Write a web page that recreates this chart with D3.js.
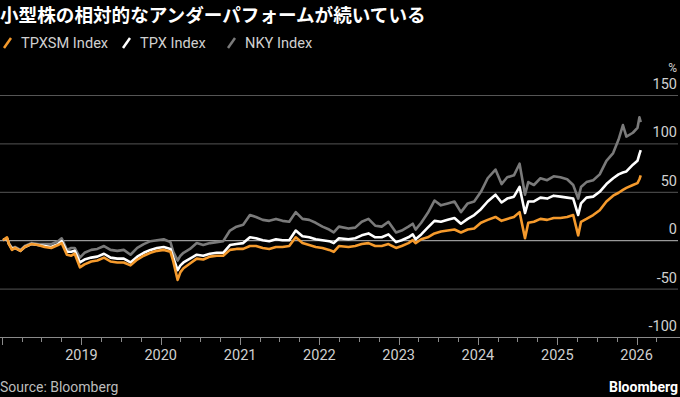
<!DOCTYPE html>
<html>
<head>
<meta charset="utf-8">
<script src="https://cdn.jsdelivr.net/npm/d3@7"></script>
<style>
  body { margin: 0; background: #000; }
  svg { display: block; }
  text { font-family: Roboto, "Noto Sans", sans-serif; }
</style>
</head>
<body>
<div id="chart-area"></div>
<script>
// readings from the picture, % change since Jan 2018
var dates = [
  "2018-01-05","2018-01-23","2018-02-01","2018-02-15","2018-03-01","2018-03-26","2018-04-15","2018-05-15","2018-06-15","2018-07-15","2018-08-15","2018-09-15","2018-10-02","2018-10-26","2018-11-15","2018-12-01","2018-12-25",
  "2019-01-15","2019-02-15","2019-03-15","2019-04-15","2019-05-15","2019-06-15","2019-07-15","2019-08-15","2019-09-15","2019-10-15","2019-11-15","2019-12-15",
  "2020-01-15","2020-02-15","2020-02-28","2020-03-19","2020-04-01","2020-04-15","2020-05-15","2020-06-15","2020-07-15","2020-08-15","2020-09-15","2020-10-15","2020-11-15","2020-12-15",
  "2021-01-15","2021-02-15","2021-03-15","2021-04-15","2021-05-15","2021-06-15","2021-07-15","2021-08-15","2021-09-14","2021-10-15","2021-11-15","2021-12-15",
  "2022-01-15","2022-02-15","2022-03-08","2022-04-01","2022-05-15","2022-06-15","2022-07-15","2022-08-15","2022-09-15","2022-10-15","2022-11-15","2022-12-20",
  "2023-01-15","2023-02-15","2023-03-07","2023-03-20","2023-04-15","2023-05-15","2023-06-15","2023-07-15","2023-08-15","2023-09-15","2023-10-15","2023-11-15","2023-12-15",
  "2024-01-15","2024-02-15","2024-03-22","2024-04-19","2024-05-15","2024-06-15","2024-07-11","2024-08-05","2024-08-20","2024-09-15","2024-10-15","2024-11-15","2024-12-15",
  "2025-01-15","2025-02-15","2025-03-15","2025-04-07","2025-04-20","2025-05-15","2025-06-15","2025-07-15","2025-08-15","2025-09-15","2025-10-10","2025-10-30","2025-11-15","2025-12-15",
  "2026-01-05","2026-01-14","2026-01-20"
];

var nky = [
  0, 2, -3, -8, -7, -10, -6, -3, -4, -4, -4, -1, 2, -10, -8, -8, -18,
  -13, -10, -9, -6, -10, -11, -10, -15, -8, -4, -1, 0,
  1, -2, -12, -21, -16, -13, -9, -3, -5, -3, -2, -1, 10, 14,
  16, 26, 24, 21, 20, 22, 20, 19, 29, 22, 21, 18,
  14, 11, 8, 14, 12, 13, 19, 22, 15, 14, 19, 8,
  10, 14, 17, 11, 18, 28, 41, 36, 38, 40, 29, 38, 40,
  50, 64, 73, 58, 65, 67, 79, 47, 60, 57, 64, 62, 66,
  65, 63, 57, 43, 55, 60, 62, 68, 82, 90, 104, 119, 107, 111,
  116, 127, 122
];

var tpx = [
  0, 2, -4, -9, -8, -11, -7, -4, -5, -6, -7, -4, -1, -12, -12, -11, -23,
  -20, -18, -17, -14, -18, -19, -19, -23, -17, -13, -10, -8,
  -7, -9, -18, -31, -26, -23, -19, -15, -16, -14, -13, -13, -5, -4,
  -3, 3, 2, 0, -1, 1, 0, 0, 10, 4, 3, 1,
  0, -1, -3, 2, 1, 2, 5, 7, 3, 3, 6, -2,
  0, 3, 6, 1, 6, 13, 20, 19, 21, 23, 17, 22, 26,
  32, 40, 47, 39, 43, 45, 55, 28, 40, 40, 44, 43, 46,
  45, 44, 43, 26, 38, 44, 45, 50, 58, 64, 68, 70, 71, 78,
  82, 89, 93
];

var tpxsm = [
  0, 3, -4, -10, -8, -11, -7, -4, -5, -7, -8, -5, -3, -15, -16, -14, -28,
  -25, -22, -21, -18, -22, -23, -23, -26, -20, -16, -13, -11,
  -10, -12, -22, -41, -33, -29, -24, -19, -20, -17, -16, -16, -10, -9,
  -9, -6, -6, -8, -9, -7, -7, -6, 3, -3, -5, -7,
  -8, -10, -12, -6, -7, -6, -4, -3, -6, -6, -4, -8,
  -6, -3, 0, -3, 1, 3, 7, 9, 10, 11, 8, 11, 12,
  18, 21, 24, 20, 22, 24, 29, 2, 18, 19, 22, 21, 23,
  23, 24, 26, 5, 19, 22, 26, 31, 40, 46, 49, 52, 54, 57,
  59, 63, 67
];

var yTicks = [150, 100, 50, 0, -50, -100];
var xYears = [2019, 2020, 2021, 2022, 2023, 2024, 2025, 2026];

var chartTitle = "小型株の相対的なアンダーパフォームが続いている";
var seriesNames = ["TPXSM Index", "TPX Index", "NKY Index"];
var seriesColours = ["#f59a2c", "#ffffff", "#7a7a7a"];

var width = 680, height = 397;

var svg = d3.select("#chart-area").append("svg")
    .attr("width", width)
    .attr("height", height);

var parseDate = d3.timeParse("%Y-%m-%d");

var x = d3.scaleTime()
    .domain([new Date(2018, 0, 1), new Date(2026, 0, 1)])
    .range([2.2, 636.6]);

var y = d3.scaleLinear()
    .domain([-100, 150])
    .range([337, 95]);

// title
svg.append("text")
    .attr("x", 0)
    .attr("y", 22)
    .attr("fill", "#fff")
    .attr("font-size", "18.6px")
    .attr("font-weight", "bold")
    .style("font-family", "'Noto Sans CJK JP', sans-serif")
    .text(chartTitle);

// legend
var legendX = [3, 122, 227];
seriesNames.forEach(function(name, i) {
    var row = svg.append("g")
        .attr("transform", "translate(" + legendX[i] + ",0)");
    row.append("line")
        .attr("x1", 1).attr("y1", 48)
        .attr("x2", 8).attr("y2", 38)
        .attr("stroke", seriesColours[i])
        .attr("stroke-width", 2.5);
    row.append("text")
        .attr("x", 18)
        .attr("y", 48)
        .attr("fill", "#d0d0d0")
        .attr("font-size", "14.6px")
        .text(name);
});

// gridlines + y labels
svg.append("g")
    .selectAll("line")
    .data(yTicks.filter(function(d) { return d !== -100; }))
    .enter().append("line")
    .attr("x1", 0)
    .attr("x2", 678)
    .attr("y1", function(d) { return y(d) + 0.5; })
    .attr("y2", function(d) { return y(d) + 0.5; })
    .attr("stroke", function(d) { return d === 0 ? "#bdbdbd" : "#555"; })
    .attr("stroke-width", 1);

svg.append("g")
    .selectAll("text")
    .data(yTicks)
    .enter().append("text")
    .attr("x", 677)
    .attr("y", function(d) { return y(d) - 6; })
    .attr("text-anchor", "end")
    .attr("fill", "#d0d0d0")
    .attr("font-size", "14.5px")
    .text(function(d) { return d; });

svg.append("text")
    .attr("x", 677)
    .attr("y", 72)
    .attr("text-anchor", "end")
    .attr("fill", "#d0d0d0")
    .attr("font-size", "12px")
    .text("%");

// x axis
var xAxis = svg.append("g")
    .attr("class", "x-axis")
    .attr("transform", "translate(0,337)");

xAxis.append("line")
    .attr("x1", 0).attr("x2", 680)
    .attr("y1", 0.5).attr("y2", 0.5)
    .attr("stroke", "#8a8a8a");

var quarters = d3.timeMonth.every(3).range(new Date(2018, 0, 1), new Date(2026, 4, 1));
xAxis.selectAll(".tick")
    .data(quarters)
    .enter().append("line")
    .attr("x1", function(d) { return Math.round(x(d)) + 0.5; })
    .attr("x2", function(d) { return Math.round(x(d)) + 0.5; })
    .attr("y1", 0)
    .attr("y2", function(d) { return d.getMonth() === 0 ? 8 : 5; })
    .attr("stroke", "#8a8a8a");

xAxis.selectAll(".year")
    .data(xYears)
    .enter().append("text")
    .attr("x", function(d) { return x(new Date(d, 0, 1)); })
    .attr("y", 23)
    .attr("text-anchor", "middle")
    .attr("fill", "#d0d0d0")
    .attr("font-size", "14.5px")
    .text(function(d) { return d; });

// lines
var parsed = dates.map(parseDate);
var allSeries = [tpxsm, tpx, nky];

var line = d3.line()
    .x(function(d) { return x(d.date); })
    .y(function(d) { return y(d.value); });

[2, 1, 0].forEach(function(i) {
    var pts = parsed.map(function(dt, j) {
        return { date: dt, value: allSeries[i][j] };
    });
    svg.append("path")
        .datum(pts)
        .attr("fill", "none")
        .attr("stroke", seriesColours[i])
        .attr("stroke-width", 2.6)
        .attr("stroke-linejoin", "round")
        .attr("d", line);
});

// footer
svg.append("text")
    .attr("x", 0)
    .attr("y", 392)
    .attr("fill", "#bdbdbd")
    .attr("font-size", "14px")
    .text("Source: Bloomberg");

svg.append("text")
    .attr("x", 678)
    .attr("y", 392)
    .attr("text-anchor", "end")
    .attr("fill", "#fff")
    .attr("font-size", "14px")
    .attr("font-weight", "bold")
    .text("Bloomberg");
</script>
</body>
</html>
